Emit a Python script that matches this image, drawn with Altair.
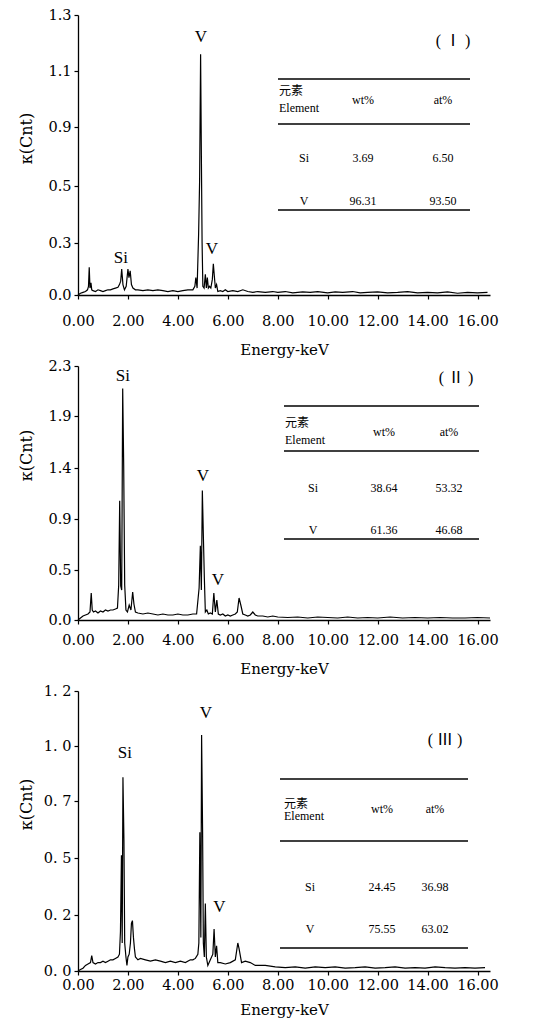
import altair as alt
import pandas as pd

# ---------------- data ----------------
X_TICKS = [0, 2, 4, 6, 8, 10, 12, 14, 16]

# Panel I
p1_energy = [0.00, 0.10, 0.20, 0.30, 0.38, 0.42, 0.45, 0.48, 0.52, 0.55, 0.60, 0.70, 0.80, 0.90,
             1.00, 1.10, 1.20, 1.30, 1.40, 1.50, 1.60, 1.66, 1.71, 1.75, 1.80, 1.86, 1.93, 2.00,
             2.04, 2.09, 2.14, 2.20, 2.30, 2.40, 2.60, 2.80, 3.00, 3.20, 3.40, 3.60, 3.80, 4.00,
             4.20, 4.40, 4.60, 4.68, 4.72, 4.77, 4.83, 4.87, 4.91, 4.94, 4.97, 5.00, 5.05, 5.10,
             5.14, 5.18, 5.22, 5.27, 5.32, 5.38, 5.42, 5.46, 5.50, 5.55, 5.60, 5.70, 5.80, 5.90,
             6.00, 6.20, 6.40, 6.60, 6.80, 7.00, 7.20, 7.50, 7.80, 8.00, 8.30, 8.60, 9.00, 9.30,
             9.60, 10.00, 10.30, 10.60, 11.00, 11.30, 11.60, 12.00, 12.40, 12.80, 13.20, 13.60,
             14.00, 14.40, 14.80, 15.20, 15.60, 16.00, 16.40]
p1_counts = [0.00, 0.01, 0.015, 0.02, 0.03, 0.05, 0.16, 0.04, 0.07, 0.03, 0.025, 0.02, 0.03, 0.025,
             0.02, 0.025, 0.03, 0.03, 0.035, 0.04, 0.045, 0.06, 0.08, 0.15, 0.06, 0.03, 0.05, 0.15,
             0.10, 0.14, 0.06, 0.04, 0.03, 0.03, 0.025, 0.03, 0.025, 0.03, 0.025, 0.02, 0.025, 0.02,
             0.025, 0.03, 0.03, 0.05, 0.10, 0.04, 0.33, 0.53, 1.16, 0.72, 0.30, 0.05, 0.04, 0.12,
             0.04, 0.10, 0.04, 0.05, 0.04, 0.09, 0.18, 0.11, 0.04, 0.06, 0.02, 0.025, 0.02, 0.03,
             0.02, 0.025, 0.02, 0.03, 0.02, 0.015, 0.02, 0.015, 0.02, 0.015, 0.02, 0.012, 0.018, 0.015,
             0.02, 0.012, 0.018, 0.015, 0.02, 0.012, 0.015, 0.018, 0.012, 0.015, 0.02, 0.012,
             0.015, 0.012, 0.018, 0.01, 0.015, 0.012, 0.015]
p1_ticks = [0.0, 0.3, 0.5, 0.9, 1.1, 1.3]
p1_peak_labels = ["Si", "V", "V"]
p1_peak_energy = [1.72, 4.92, 5.36]
p1_peak_counts = [0.213, 1.22, 0.265]
p1_elements = ["Si", "V"]
p1_wt = ["3.69", "96.31"]
p1_at = ["6.50", "93.50"]

# Panel II
p2_energy = [0.00, 0.10, 0.20, 0.30, 0.40, 0.48, 0.53, 0.57, 0.62, 0.70, 0.80, 0.90, 1.00, 1.10,
             1.20, 1.30, 1.40, 1.50, 1.58, 1.63, 1.67, 1.71, 1.75, 1.79, 1.83, 1.87, 1.92, 1.98,
             2.05, 2.12, 2.19, 2.24, 2.30, 2.40, 2.60, 2.80, 3.00, 3.20, 3.40, 3.60, 3.80, 4.00,
             4.20, 4.40, 4.60, 4.75, 4.85, 4.90, 4.94, 4.98, 5.02, 5.06, 5.10, 5.16, 5.22, 5.30,
             5.38, 5.44, 5.50, 5.56, 5.62, 5.70, 5.80, 5.90, 6.00, 6.10, 6.20, 6.30, 6.38, 6.45,
             6.52, 6.60, 6.70, 6.80, 6.90, 7.00, 7.10, 7.20, 7.40, 7.60, 7.80, 8.00, 8.40, 8.80,
             9.20, 9.60, 10.00, 10.40, 10.80, 11.20, 11.60, 12.00, 12.50, 13.00, 13.50, 14.00,
             14.50, 15.00, 15.50, 16.00, 16.50]
p2_counts = [0.00, 0.02, 0.04, 0.05, 0.06, 0.08, 0.27, 0.10, 0.08, 0.09, 0.07, 0.09, 0.08, 0.10,
             0.09, 0.10, 0.10, 0.11, 0.12, 0.35, 1.08, 0.34, 0.30, 2.12, 1.42, 0.35, 0.10, 0.08,
             0.15, 0.10, 0.28, 0.16, 0.08, 0.07, 0.06, 0.07, 0.06, 0.05, 0.06, 0.05, 0.05, 0.06,
             0.05, 0.05, 0.06, 0.06, 0.32, 0.69, 0.30, 1.18, 0.77, 0.42, 0.08, 0.10, 0.06, 0.07,
             0.06, 0.27, 0.08, 0.20, 0.06, 0.05, 0.06, 0.04, 0.05, 0.04, 0.05, 0.06, 0.08, 0.22,
             0.15, 0.06, 0.05, 0.04, 0.05, 0.08, 0.05, 0.04, 0.04, 0.03, 0.04, 0.03, 0.025, 0.03,
             0.02, 0.03, 0.025, 0.02, 0.03, 0.02, 0.025, 0.02, 0.03, 0.02, 0.025, 0.02,
             0.025, 0.02, 0.02, 0.025, 0.02]
p2_ticks = [0.0, 0.5, 0.9, 1.4, 1.9, 2.3]
p2_peak_labels = ["Si", "V", "V"]
p2_peak_energy = [1.80, 5.00, 5.60]
p2_peak_counts = [2.22, 1.32, 0.40]
p2_elements = ["Si", "V"]
p2_wt = ["38.64", "61.36"]
p2_at = ["53.32", "46.68"]

# Panel III
p3_energy = [0.00, 0.10, 0.20, 0.30, 0.40, 0.50, 0.55, 0.60, 0.70, 0.80, 0.90, 1.00, 1.10, 1.20,
             1.30, 1.40, 1.50, 1.60, 1.66, 1.70, 1.74, 1.77, 1.80, 1.84, 1.87, 1.92, 1.96, 2.00,
             2.05, 2.10, 2.14, 2.18, 2.22, 2.26, 2.30, 2.40, 2.50, 2.70, 2.90, 3.10, 3.30, 3.50,
             3.70, 3.90, 4.10, 4.30, 4.50, 4.60, 4.70, 4.80, 4.84, 4.88, 4.92, 4.95, 4.99, 5.02,
             5.06, 5.10, 5.14, 5.20, 5.30, 5.40, 5.45, 5.50, 5.55, 5.60, 5.70, 5.90, 6.10, 6.30,
             6.40, 6.45, 6.55, 6.70, 6.90, 7.10, 7.50, 7.90, 8.30, 8.70, 9.10, 9.50, 9.90, 10.30,
             10.70, 11.10, 11.50, 11.90, 12.30, 12.70, 13.10, 13.50, 13.90, 14.30, 14.70, 15.10,
             15.50, 15.90, 16.30]
p3_counts = [0.00, 0.005, 0.01, 0.02, 0.025, 0.03, 0.055, 0.03, 0.025, 0.03, 0.03, 0.035, 0.03, 0.035,
             0.04, 0.04, 0.045, 0.05, 0.06, 0.14, 0.51, 0.10, 0.83, 0.56, 0.10, 0.05, 0.02, 0.05,
             0.06, 0.10, 0.17, 0.18, 0.12, 0.08, 0.05, 0.04, 0.045, 0.04, 0.035, 0.04, 0.035, 0.03,
             0.035, 0.03, 0.035, 0.03, 0.04, 0.04, 0.045, 0.06, 0.10, 0.59, 0.12, 1.04, 0.59, 0.10,
             0.05, 0.26, 0.05, 0.02, 0.04, 0.06, 0.15, 0.05, 0.09, 0.03, 0.03, 0.025, 0.03, 0.04,
             0.10, 0.08, 0.03, 0.035, 0.03, 0.02, 0.02, 0.015, 0.012, 0.015, 0.01, 0.015, 0.012, 0.015,
             0.01, 0.012, 0.015, 0.01, 0.012, 0.015, 0.01, 0.012, 0.01, 0.015, 0.012, 0.01,
             0.012, 0.01, 0.012]
p3_ticks = [0.0, 0.2, 0.5, 0.7, 1.0, 1.2]
p3_peak_labels = ["Si", "V", "V"]
p3_peak_energy = [1.88, 5.12, 5.66]
p3_peak_counts = [0.96, 1.12, 0.24]
p3_elements = ["Si", "V"]
p3_wt = ["24.45", "75.55"]
p3_at = ["36.98", "63.02"]

header_cn = "元素"
header_en = "Element"
header_wt = "wt%"
header_at = "at%"
panel_names = ["( Ⅰ )", "( Ⅱ )", "( Ⅲ )"]

# ---------------- styling / layout ----------------
SERIF = "Liberation Serif"
AXFONT = "DejaVu Serif"
MIXED = "Liberation Serif, Noto Sans CJK SC"


def make_panel(energy, counts, ticks, tick_pos, height, peak_labels, peak_e, peak_c,
               elements, wt, at, name, lay, label_pad, title_pad, title_y, spaced=False):
    xscale = alt.Scale(domain=[0, 16.5], nice=False, zero=False)
    yscale = alt.Scale(domain=ticks, range=tick_pos, nice=False, zero=False)
    lab_expr = "replace(format(datum.value, '.1f'), '.', '. ')" if spaced else "format(datum.value, '.1f')"
    xaxis = alt.Axis(values=X_TICKS, format=".2f", title="Energy-keV", grid=False,
                     tickSize=4, labelPadding=label_pad, titlePadding=title_pad,
                     labelFont=AXFONT, titleFont=AXFONT, labelColor="black", titleColor="black",
                     titleFontWeight="normal", domainColor="black", domainWidth=1.6,
                     tickColor="black", tickWidth=1.2,
                     labelFontSize=14.5, titleFontSize=15, labelFlush=False, labelOverlap=False)
    yaxis = alt.Axis(values=ticks, labelExpr=lab_expr, title="κ(Cnt)", grid=False,
                     tickSize=4, labelPadding=3, titleX=-44, titleY=title_y,
                     titleAngle=270, titleAlign="center", titleBaseline="bottom",
                     labelFont=AXFONT, titleFont=AXFONT, labelColor="black", titleColor="black",
                     titleFontWeight="normal", domainColor="black", domainWidth=1.3,
                     tickColor="black", tickWidth=1.2,
                     labelFontSize=14.5, titleFontSize=16)

    spec = pd.DataFrame({"E": energy, "C": counts})
    line = alt.Chart(spec).mark_line(color="black", strokeWidth=1.2).encode(
        x=alt.X("E:Q", scale=xscale, axis=xaxis),
        y=alt.Y("C:Q", scale=yscale, axis=yaxis),
    )

    peaks = pd.DataFrame({"E": peak_e, "C": peak_c, "t": peak_labels})
    peak_text = alt.Chart(peaks).mark_text(font=SERIF, fontSize=17, color="black",
                                           align="center", baseline="middle").encode(
        x=alt.X("E:Q"), y=alt.Y("C:Q"), text="t:N")

    # table layout (pixel positions inside the plot area)
    rx0, rx1 = lay["rule_x"]
    rules = pd.DataFrame({"px": [rx0] * 3, "px2": [rx1] * 3, "py": lay["rule_y"]})
    rule_layer = alt.Chart(rules).mark_rule(color="black", strokeWidth=1.3).encode(
        x=alt.X("px:Q", scale=None, axis=None), x2="px2:Q",
        y=alt.Y("py:Q", scale=None, axis=None))

    cx_el, cx_wt, cx_at = lay["col_x"]
    txt_rows = []
    for i in range(len(elements)):
        ry = lay["row_y"][i]
        txt_rows += [(elements[i], cx_el, ry), (wt[i], cx_wt, ry), (at[i], cx_at, ry)]
    txt_rows += [(header_wt, cx_wt, lay["head_y"]), (header_at, cx_at, lay["head_y"])]
    cells = pd.DataFrame(txt_rows, columns=["t", "px", "py"])
    cell_layer = alt.Chart(cells).mark_text(font=SERIF, fontSize=12, color="black",
                                            align="center", baseline="middle").encode(
        x=alt.X("px:Q", scale=None, axis=None), y=alt.Y("py:Q", scale=None, axis=None), text="t:N")

    heads = pd.DataFrame({"t": [header_cn, header_en],
                          "px": [lay["head_left"], lay["head_left"]],
                          "py": [lay["cn_y"], lay["en_y"]]})
    head_layer = alt.Chart(heads).mark_text(font=MIXED, fontSize=12, color="black",
                                            align="left", baseline="middle").encode(
        x=alt.X("px:Q", scale=None, axis=None), y=alt.Y("py:Q", scale=None, axis=None), text="t:N")

    title_df = pd.DataFrame({"t": [name], "px": [lay["name_xy"][0]], "py": [lay["name_xy"][1]]})
    name_layer = alt.Chart(title_df).mark_text(font=MIXED, fontSize=16, color="black",
                                               align="center", baseline="middle").encode(
        x=alt.X("px:Q", scale=None, axis=None), y=alt.Y("py:Q", scale=None, axis=None), text="t:N")

    return alt.layer(line, peak_text, rule_layer, cell_layer, head_layer, name_layer).properties(
        width=412, height=height)


lay1 = dict(rule_x=(200, 392), rule_y=[64, 109, 195], col_x=(226, 285, 365), row_y=[143, 186],
            head_y=85, head_left=201, cn_y=76, en_y=93, name_xy=(375, 26))
lay2 = dict(rule_x=(206, 401), rule_y=[40, 85, 173], col_x=(235, 306, 371), row_y=[122, 164],
            head_y=66, head_left=207, cn_y=57, en_y=74, name_xy=(378, 12))
lay3 = dict(rule_x=(202, 390), rule_y=[88, 150, 257], col_x=(232, 304, 357), row_y=[196, 238],
            head_y=118, head_left=206, cn_y=113, en_y=125, name_xy=(367, 49))

panel1 = make_panel(p1_energy, p1_counts, p1_ticks, [280, 228, 171, 112, 56, 0], 280,
                    p1_peak_labels, p1_peak_energy, p1_peak_counts, p1_elements, p1_wt, p1_at,
                    panel_names[0], lay1, label_pad=15, title_pad=15, title_y=123)
panel2 = make_panel(p2_energy, p2_counts, p2_ticks, [254, 204, 153, 102, 50, 0], 254,
                    p2_peak_labels, p2_peak_energy, p2_peak_counts, p2_elements, p2_wt, p2_at,
                    panel_names[1], lay2, label_pad=9, title_pad=15, title_y=89)
panel3 = make_panel(p3_energy, p3_counts, p3_ticks, [280, 224, 167, 110, 55, 0], 280,
                    p3_peak_labels, p3_peak_energy, p3_peak_counts, p3_elements, p3_wt, p3_at,
                    panel_names[2], lay3, label_pad=3, title_pad=11, title_y=113, spaced=True)

chart = alt.vconcat(panel1, panel2, panel3, spacing=71, bounds="flush").properties(
    padding={"left": 18, "top": 7, "right": 5, "bottom": 5},
    background="white",
).configure_view(stroke=None)

chart.save("out.html", embed_options={"renderer": "svg", "actions": False})
